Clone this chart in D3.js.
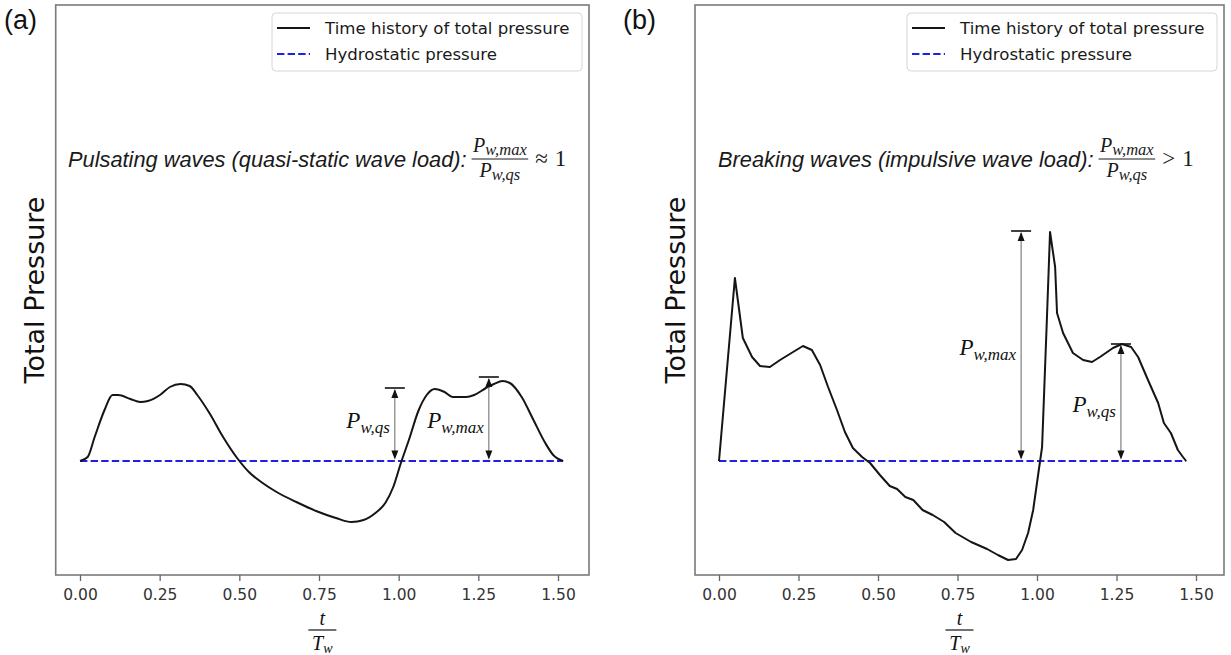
<!DOCTYPE html>
<html><head><meta charset="utf-8">
<script src="https://cdn.jsdelivr.net/npm/d3@7/dist/d3.min.js"></script>
<style>body{margin:0;background:#fff}</style>
</head><body>
<svg id="chart" width="1231" height="655"></svg>
<script>
// ---------- data ----------
const tickVals = [0, 0.25, 0.5, 0.75, 1.0, 1.25, 1.5];
const tickLabels = ["0.00", "0.25", "0.50", "0.75", "1.00", "1.25", "1.50"];

const tA = [0,0.024,0.046,0.077,0.102,0.120,0.158,0.189,0.213,0.251,0.282,0.316,0.344,0.368,0.406,0.449,0.493,0.530,0.573,0.617,0.679,0.741,0.803,0.852,0.890,0.927,0.958,0.983,1.007,1.032,1.063,1.088,1.113,1.144,1.169,1.212,1.237,1.274,1.299,1.326,1.349,1.386,1.423,1.460,1.485,1.516];
const pA = [0,0.04,0.24,0.51,0.66,0.66,0.62,0.59,0.60,0.66,0.74,0.77,0.75,0.66,0.48,0.24,0.03,-0.11,-0.22,-0.31,-0.41,-0.50,-0.57,-0.61,-0.59,-0.52,-0.42,-0.26,-0.02,0.21,0.51,0.66,0.72,0.69,0.64,0.64,0.66,0.73,0.77,0.80,0.78,0.64,0.41,0.18,0.06,0];

const tB = [0,0.050,0.075,0.104,0.129,0.160,0.192,0.233,0.264,0.292,0.318,0.343,0.371,0.396,0.421,0.450,0.475,0.506,0.537,0.560,0.586,0.611,0.640,0.672,0.708,0.744,0.793,0.843,0.877,0.909,0.934,0.953,0.972,0.988,1.003,1.016,1.031,1.041,1.057,1.063,1.082,1.113,1.145,1.173,1.198,1.239,1.267,1.296,1.318,1.349,1.381,1.399,1.421,1.443,1.459,1.469];
const pB = [0,1.83,1.23,1.04,0.95,0.94,1.01,1.09,1.15,1.11,0.96,0.74,0.51,0.29,0.13,0.04,-0.02,-0.14,-0.25,-0.28,-0.36,-0.39,-0.49,-0.54,-0.61,-0.72,-0.81,-0.88,-0.94,-0.99,-0.98,-0.89,-0.72,-0.49,-0.15,0.14,1.41,2.29,1.94,1.48,1.28,1.08,1.01,0.99,1.04,1.13,1.17,1.14,1.04,0.81,0.58,0.38,0.28,0.11,0.04,0];

const hydroTA = [0, 1.516];
const hydroTB = [0, 1.469];
const hydroP = [0, 0];

// annotations: time, top value, subscript, label value
const annTA = [0.988, 1.283];
const annTopA = [0.73, 0.84];
const annSubA = ["w,qs", "w,max"];
const annLabA = [0.33, 0.33];

const annTB = [0.950, 1.264];
const annTopB = [2.30, 1.17];
const annSubB = ["w,max", "w,qs"];
const annLabB = [1.06, 0.49];

const legendLabels = ["Time history of total pressure", "Hydrostatic pressure"];
const titleTexts = ["Pulsating waves (quasi-static wave load):", "Breaking waves (impulsive wave load):"];
const relSymbols = ["\u2248", ">"];
const relValues = ["1", "1"];
const panelLabels = ["(a)", "(b)"];
const yLabel = "Total Pressure";

const yLim = [-1.14, 4.56];

// ---------- layout ----------
const svg = d3.select("#chart");
const panels = [
  {box:{l:55.7, r:589, t:5, b:575}, x0:80, x1:558, t:tA, p:pA, hT:hydroTA, annT:annTA, annTop:annTopA, annSub:annSubA, annLab:annLabA, smooth:true, labX:4, ylabX:34, tx0:68},
  {box:{l:695, r:1224, t:5, b:575}, x0:719, x1:1196, t:tB, p:pB, hT:hydroTB, annT:annTB, annTop:annTopB, annSub:annSubB, annLab:annLabB, smooth:false, labX:623, ylabX:675, tx0:718}
];

const serif = "'Liberation Serif', 'DejaVu Serif', serif";
const sans = "'DejaVu Sans', sans-serif";

panels.forEach((P, i) => {
  const g = svg.append("g");
  const pxPer = (P.x1 - P.x0) / 1.5;
  const x = d3.scaleLinear().domain([(P.box.l - P.x0)/pxPer, (P.box.r - P.x0)/pxPer]).range([P.box.l, P.box.r]);
  const y = d3.scaleLinear().domain(yLim).range([P.box.b, P.box.t]);

  // hydrostatic
  g.append("path")
    .attr("d", d3.line().x(d=>x(d[0])).y(d=>y(d[1]))(P.hT.map((t,k)=>[t, hydroP[k]])))
    .attr("fill","none").attr("stroke","#1f1fe6").attr("stroke-width",2.2)
    .attr("stroke-dasharray","7.4,3.2");

  // curve
  g.append("path")
    .attr("d", d3.line().x(d=>x(d[0])).y(d=>y(d[1])).curve(P.smooth ? d3.curveMonotoneX : d3.curveLinear)(P.t.map((t,k)=>[t, P.p[k]])))
    .attr("fill","none").attr("stroke","#151515").attr("stroke-width",2).attr("stroke-linejoin","round");

  // annotations
  P.annT.forEach((at, k) => {
    const ax = x(at), yt = y(P.annTop[k]), yb = y(0) - 1.5;
    g.append("line").attr("x1",ax).attr("x2",ax).attr("y1",yt+2).attr("y2",yb-2)
      .attr("stroke","#555").attr("stroke-width",0.9);
    g.append("line").attr("x1",ax-10).attr("x2",ax+10).attr("y1",yt).attr("y2",yt)
      .attr("stroke","#111").attr("stroke-width",1.6);
    g.append("path").attr("d",`M${ax},${yt+1}L${ax-3.5},${yt+10}L${ax+3.5},${yt+10}Z`).attr("fill","#111");
    g.append("path").attr("d",`M${ax},${yb}L${ax-3.5},${yb-9}L${ax+3.5},${yb-9}Z`).attr("fill","#111");
    const tx = g.append("text").attr("x", ax-5).attr("y", y(P.annLab[k]))
      .attr("text-anchor","end").attr("font-family",serif).attr("font-style","italic").attr("fill","#111");
    tx.append("tspan").attr("font-size",23).text("P");
    tx.append("tspan").attr("font-size",17).attr("dy",5).text(P.annSub[k]);
  });

  // frame
  g.append("rect").attr("x",P.box.l).attr("y",P.box.t).attr("width",P.box.r-P.box.l).attr("height",P.box.b-P.box.t)
    .attr("fill","none").attr("stroke","#7a7a7a").attr("stroke-width",1.6);

  // x axis ticks
  const ax = g.append("g").attr("transform",`translate(0,${P.box.b})`)
    .call(d3.axisBottom(x).tickValues(tickVals).tickFormat((d,j)=>tickLabels[j]).tickSize(6).tickPadding(8));
  ax.select(".domain").remove();
  ax.selectAll(".tick line").attr("stroke","#666").attr("stroke-width",1.3);
  ax.selectAll(".tick text").attr("font-family",sans).attr("font-size",15.5).attr("fill","#333");

  // x label fraction t / T_w
  const cx = (P.box.l + P.box.r)/2;
  g.append("text").attr("x",cx).attr("y",625).attr("text-anchor","middle")
    .attr("font-family",serif).attr("font-style","italic").attr("font-size",20).attr("fill","#111").text("t");
  g.append("line").attr("x1",cx-14).attr("x2",cx+14).attr("y1",630).attr("y2",630).attr("stroke","#111").attr("stroke-width",1.2);
  const den = g.append("text").attr("x",cx).attr("y",650).attr("text-anchor","middle")
    .attr("font-family",serif).attr("font-style","italic").attr("fill","#111");
  den.append("tspan").attr("font-size",20).text("T");
  den.append("tspan").attr("font-size",14).attr("dy",3).text("w");

  // y label
  g.append("text").attr("transform",`translate(${P.ylabX},${(P.box.t+P.box.b)/2}) rotate(-90)`)
    .attr("text-anchor","middle").attr("dominant-baseline","central")
    .attr("font-family",sans).attr("font-size",27).attr("fill","#111").text(yLabel);

  // panel label
  g.append("text").attr("x",P.labX).attr("y",29).attr("font-family","'Liberation Sans', Arial, sans-serif")
    .attr("font-size",27).attr("fill","#111").text(panelLabels[i]);

  // legend
  const lw = 310, lh = 58;
  const lx = P.box.r - 7 - lw, ly = P.box.t + 8;
  g.append("rect").attr("x",lx).attr("y",ly).attr("width",lw).attr("height",lh).attr("rx",4)
    .attr("fill","#fff").attr("stroke","#d6d6d6").attr("stroke-width",1);
  legendLabels.forEach((lab, k) => {
    const yy = ly + 15 + k*26;
    g.append("line").attr("x1",lx+5).attr("x2",lx+38).attr("y1",yy).attr("y2",yy)
      .attr("stroke", k===0 ? "#151515" : "#1f1fe6").attr("stroke-width",2)
      .attr("stroke-dasharray", k===0 ? null : "7.4,3.2");
    g.append("text").attr("x",lx+53).attr("y",yy).attr("dominant-baseline","central")
      .attr("font-family",sans).attr("font-size",16.6).attr("fill","#1a1a1a").text(lab);
  });

  // title with fraction
  const tx0 = P.tx0, tyb = 167;
  const tt = g.append("text").attr("x",tx0).attr("y",tyb).attr("font-family","'Liberation Sans', Arial, sans-serif")
    .attr("font-style","italic").attr("font-size",21.8).attr("fill","#1a1a1a").text(titleTexts[i]);
  const w = tt.node().getComputedTextLength();
  const fx = tx0 + w + 5;
  const num = g.append("text").attr("y",tyb-15).attr("text-anchor","middle")
    .attr("font-family",serif).attr("font-style","italic").attr("fill","#1a1a1a");
  num.append("tspan").attr("font-size",20).text("P");
  num.append("tspan").attr("font-size",16.5).attr("dy",3).text("w,max");
  const dnm = g.append("text").attr("y",tyb+10).attr("text-anchor","middle")
    .attr("font-family",serif).attr("font-style","italic").attr("fill","#1a1a1a");
  dnm.append("tspan").attr("font-size",20).text("P");
  dnm.append("tspan").attr("font-size",16.5).attr("dy",3).text("w,qs");
  const nw = Math.max(num.node().getComputedTextLength(), dnm.node().getComputedTextLength());
  const fw = nw + 3;
  num.attr("x", fx + fw/2);
  dnm.attr("x", fx + fw/2);
  g.append("line").attr("x1",fx).attr("x2",fx+fw).attr("y1",tyb-8).attr("y2",tyb-8).attr("stroke","#1a1a1a").attr("stroke-width",1);
  const rel = g.append("text").attr("x",fx+fw+7).attr("y",tyb-1).attr("font-family",serif).attr("font-size",23)
    .attr("fill","#1a1a1a");
  rel.append("tspan").text(relSymbols[i]);
  rel.append("tspan").attr("dx",7).text(relValues[i]);
});
</script>
</body></html>
